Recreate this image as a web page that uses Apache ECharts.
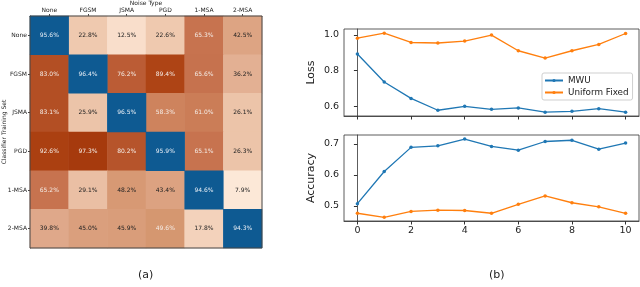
<!DOCTYPE html>
<html><head><meta charset="utf-8">
<script src="https://cdn.jsdelivr.net/npm/echarts@6/dist/echarts.min.js"></script>
<style>html,body{margin:0;padding:0;background:#fff}#c{width:640px;height:287px}</style>
</head><body><div id="c"></div>
<script>
// ---- data ----
var noiseTypes = ['None','FGSM','JSMA','PGD','1-MSA','2-MSA'];
var trainSets  = ['None','FGSM','JSMA','PGD','1-MSA','2-MSA'];
var rowNone  = [95.6, 22.8, 12.5, 22.6, 65.3, 42.5];
var rowFGSM  = [83.0, 96.4, 76.2, 89.4, 65.6, 36.2];
var rowJSMA  = [83.1, 25.9, 96.5, 58.3, 61.0, 26.1];
var rowPGD   = [92.6, 97.3, 80.2, 95.9, 65.1, 26.3];
var row1MSA  = [65.2, 29.1, 48.2, 43.4, 94.6, 7.9];
var row2MSA  = [39.8, 45.0, 45.9, 49.6, 17.8, 94.3];
var iterations = [0,1,2,3,4,5,6,7,8,9,10];
var lossMWU     = [0.893,0.737,0.646,0.580,0.602,0.585,0.593,0.569,0.574,0.589,0.569];
var lossUniform = [0.981,1.009,0.957,0.954,0.965,0.998,0.911,0.870,0.911,0.946,1.007];
var accMWU      = [0.507,0.611,0.689,0.694,0.716,0.692,0.680,0.708,0.712,0.683,0.703];
var accUniform  = [0.476,0.463,0.482,0.486,0.485,0.476,0.505,0.532,0.510,0.497,0.476];
var xTicks = [0,2,4,6,8,10];
var lossTicks = [0.6,0.8,1.0];
var accTicks = [0.5,0.6,0.7];

var rows = [rowNone,rowFGSM,rowJSMA,rowPGD,row1MSA,row2MSA];
var offDiag = [], diag = [];
rows.forEach(function(r, i){
  r.forEach(function(v, j){
    if (i === j) diag.push([j, i, v]); else offDiag.push([j, i, v]);
  });
});

var FONT = 'DejaVu Sans';
var chart = echarts.init(document.getElementById('c'), null, {renderer:'canvas'});
var cellLabel = {
  show: true, fontFamily: FONT, fontSize: 6,
  formatter: function(p){ return p.value[2].toFixed(1) + '%'; }
};
function lineSeries(name, data, color, xi, yi){
  return {
    name: name, type: 'line', xAxisIndex: xi, yAxisIndex: yi,
    data: data.map(function(v, k){ return [iterations[k], v]; }),
    symbol: 'circle', symbolSize: 3.5, showSymbol: true,
    lineStyle: {color: color, width: 1.3}, itemStyle: {color: color},
    animation: false
  };
}
var axisTxt = {fontFamily: FONT, fontSize: 9.5, color: '#222'};
var od = offDiag.map(function(d){
  return {value: d, label: {color: d[2] >= 49 ? '#f4ece6' : '#222'}};
});
chart.setOption({
  animation: false,
  textStyle: {fontFamily: FONT},
  grid: [
    {left: 30, top: 16, width: 232, height: 232, outerBoundsMode: 'none', containLabel: false, show: true, borderColor: '#444', borderWidth: 1, backgroundColor: 'transparent', z: 10},
    {left: 344, top: 29, width: 295, height: 87, outerBoundsMode: 'none', containLabel: false, show: true, borderColor: '#333', borderWidth: 0.8},
    {left: 344, top: 135, width: 295, height: 86, outerBoundsMode: 'none', containLabel: false, show: true, borderColor: '#333', borderWidth: 0.8}
  ],
  xAxis: [
    {gridIndex: 0, type: 'category', data: noiseTypes, position: 'top',
     name: 'Noise Type', nameLocation: 'middle', nameGap: 10, nameMoveOverlap: false,
     nameTextStyle: {fontFamily: FONT, fontSize: 6, color: '#222'},
     axisLine: {show: true, lineStyle: {color: '#444'}},
     axisTick: {show: true, alignWithLabel: true, length: 2, lineStyle: {color: '#444'}},
     axisLabel: {fontFamily: FONT, fontSize: 6, color: '#222', margin: 3},
     splitLine: {show: false}},
    {gridIndex: 1, type: 'value', min: -0.5, max: 10.5,
     axisLine: {show: true, onZero: false, lineStyle: {color: '#333', width: 0.8}},
     axisTick: {show: true, length: 3.5, customValues: xTicks, lineStyle: {color: '#333'}},
     axisLabel: {show: false},
     splitLine: {show: false}},
    {gridIndex: 2, type: 'value', min: -0.5, max: 10.5,
     axisLine: {show: true, onZero: false, lineStyle: {color: '#333', width: 0.8}},
     axisTick: {show: true, length: 3.5, customValues: xTicks, lineStyle: {color: '#333'}},
     axisLabel: Object.assign({customValues: xTicks, margin: 5}, axisTxt),
     splitLine: {show: false}}
  ],
  yAxis: [
    {gridIndex: 0, type: 'category', data: trainSets, inverse: true,
     name: 'Classifier Training Set', nameLocation: 'middle', nameGap: 23, nameRotate: 90, nameMoveOverlap: false,
     nameTextStyle: {fontFamily: FONT, fontSize: 6, color: '#222'},
     axisLine: {show: true, lineStyle: {color: '#444'}},
     axisTick: {show: true, alignWithLabel: true, length: 2, lineStyle: {color: '#444'}},
     axisLabel: {fontFamily: FONT, fontSize: 6, color: '#222', margin: 3},
     splitLine: {show: false}},
    {gridIndex: 1, type: 'value', min: 0.548, max: 1.032,
     name: 'Loss', nameLocation: 'middle', nameGap: 27, nameRotate: 90, nameMoveOverlap: false,
     nameTextStyle: {fontFamily: FONT, fontSize: 11, color: '#222'},
     axisLine: {show: true, lineStyle: {color: '#333', width: 0.8}},
     axisTick: {show: true, length: 3.5, customValues: lossTicks, lineStyle: {color: '#333'}},
     axisLabel: Object.assign({customValues: lossTicks, margin: 5, formatter: function(v){return v.toFixed(1);}}, axisTxt),
     splitLine: {show: false}},
    {gridIndex: 2, type: 'value', min: 0.451, max: 0.729,
     name: 'Accuracy', nameLocation: 'middle', nameGap: 27, nameRotate: 90, nameMoveOverlap: false,
     nameTextStyle: {fontFamily: FONT, fontSize: 11, color: '#222'},
     axisLine: {show: true, lineStyle: {color: '#333', width: 0.8}},
     axisTick: {show: true, length: 3.5, customValues: accTicks, lineStyle: {color: '#333'}},
     axisLabel: Object.assign({customValues: accTicks, margin: 5, formatter: function(v){return v.toFixed(1);}}, axisTxt),
     splitLine: {show: false}}
  ],
  visualMap: [{
    type: 'continuous', show: false, seriesIndex: 0, min: 0, max: 100, dimension: 2,
    inRange: {color: ['#fff5eb','#fbe4d2','#f1cdb4','#e9bea2','#dfa88a','#d5966f','#cc7f59','#c26846','#b6542b','#ad4314','#a4370a']}
  }],
  legend: {
    data: ['MWU','Uniform Fixed'], orient: 'vertical', left: 542, top: 73,
    itemWidth: 18, itemHeight: 4, itemGap: 3,
    padding: [3, 4, 3, 2],
    borderColor: '#cfcfcf', borderWidth: 1, borderRadius: 2, backgroundColor: '#fff',
    textStyle: {fontFamily: FONT, fontSize: 8.8, color: '#222'}
  },
  series: [
    {type: 'heatmap', xAxisIndex: 0, yAxisIndex: 0, data: od,
     label: cellLabel,
     itemStyle: {borderWidth: 0}, emphasis: {disabled: true}},
    {type: 'heatmap', xAxisIndex: 0, yAxisIndex: 0, data: diag,
     label: Object.assign({}, cellLabel, {color: '#e8eef5'}),
     itemStyle: {color: '#0e5a92', borderWidth: 0}, emphasis: {disabled: true}},
    lineSeries('MWU', lossMWU, '#1f77b4', 1, 1),
    lineSeries('Uniform Fixed', lossUniform, '#ff7f0e', 1, 1),
    lineSeries('MWU', accMWU, '#1f77b4', 2, 2),
    lineSeries('Uniform Fixed', accUniform, '#ff7f0e', 2, 2)
  ],
  graphic: [
    {type: 'text', left: 138, top: 270, style: {text: '(a)', font: '11px "DejaVu Sans"', fill: '#222'}},
    {type: 'text', left: 489, top: 270, style: {text: '(b)', font: '11px "DejaVu Sans"', fill: '#222'}}
  ]
});
</script>
</body></html>
